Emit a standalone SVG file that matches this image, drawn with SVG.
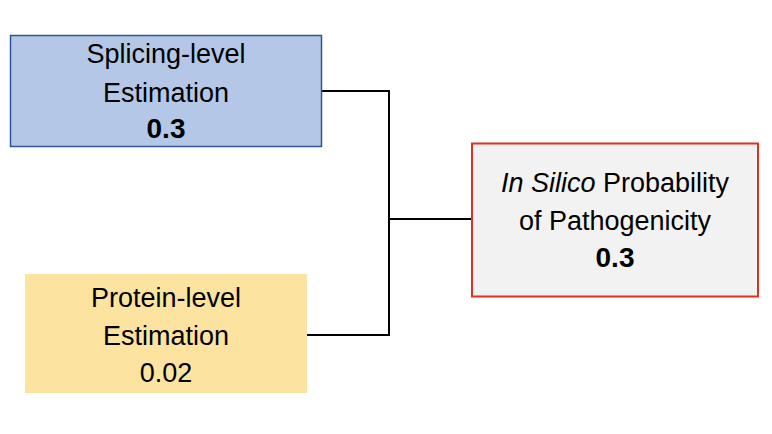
<svg xmlns="http://www.w3.org/2000/svg" width="772" height="434" viewBox="0 0 772 434">
<style>
text{font-family:"Liberation Sans",Arial,sans-serif;font-size:27px;fill:#000;text-anchor:middle}
.b{font-weight:bold;font-size:28px}
.conn{fill:none;stroke:#000;stroke-width:2}
</style>
<rect width="772" height="434" fill="#fff"/>
<g id="connectors">
<polyline class="conn" points="322,91 389,91 389,335 307,335"/>
<line class="conn" x1="389" y1="219" x2="472" y2="219"/>
</g>
<g id="splicing">
<rect x="10.5" y="35.5" width="311" height="111" fill="#B4C7E7" stroke="#2F5597" stroke-width="1.5"/>
<text x="166" y="63">Splicing-level</text>
<text x="166" y="102">Estimation</text>
<text x="166" y="138" class="b">0.3</text>
</g>
<g id="protein">
<rect x="25" y="274" width="282" height="119" fill="#FCE4A0"/>
<text x="166" y="307">Protein-level</text>
<text x="166" y="345">Estimation</text>
<text x="166" y="382">0.02</text>
</g>
<g id="insilico">
<rect x="472" y="143.5" width="286" height="153" fill="#F2F2F2" stroke="#E0301E" stroke-width="2"/>
<text x="615" y="192"><tspan font-style="italic">In Silico</tspan> Probability</text>
<text x="615" y="230">of Pathogenicity</text>
<text x="615" y="267" class="b">0.3</text>
</g>
</svg>
